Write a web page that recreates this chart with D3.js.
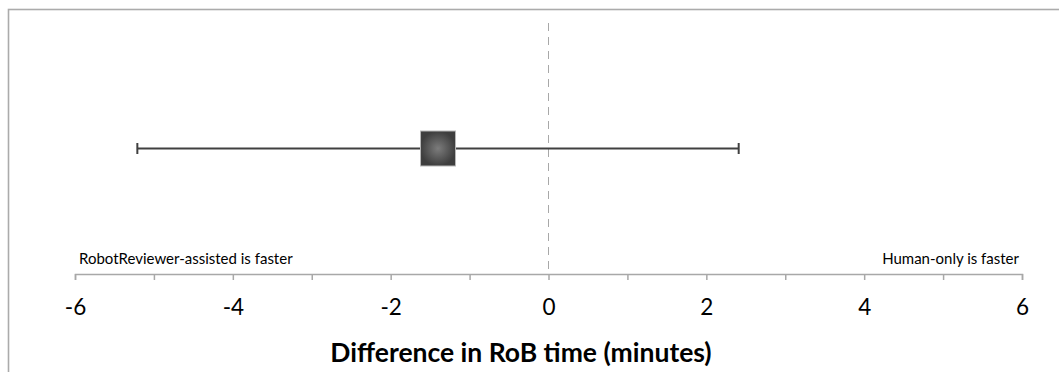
<!DOCTYPE html>
<html>
<head>
<meta charset="utf-8">
<script src="https://cdn.jsdelivr.net/npm/d3@7"></script>
<style>
  body { margin: 0; background: #fff; }
  svg { display: block; }
</style>
</head>
<body>
<div class="canvas"></div>
<script>
// data
const estimates = [-1.40];          // mean difference (minutes)
const lowerCI = [-5.21];
const upperCI = [2.41];
const tickValues = [-6, -5, -4, -3, -2, -1, 0, 1, 2, 3, 4, 5, 6];
const tickLabels = [-6, -4, -2, 0, 2, 4, 6];
const leftNote = 'RobotReviewer-assisted is faster';
const rightNote = 'Human-only is faster';
const axisTitle = 'Difference in RoB time (minutes)';

const width = 1059;
const height = 372;
const font = 'Lato, "Liberation Sans", sans-serif';

const svg = d3.select('.canvas')
    .append('svg')
    .attr('width', width)
    .attr('height', height);

// gradient for the square marker
const defs = svg.append('defs');
const grad = defs.append('radialGradient').attr('id', 'sq');
grad.append('stop').attr('offset', '0%').attr('stop-color', '#7c7c7c');
grad.append('stop').attr('offset', '100%').attr('stop-color', '#3e3e3e');

// chart frame (right and bottom run off the page)
svg.append('rect')
    .attr('x', 8.5)
    .attr('y', 9.5)
    .attr('width', 1054)
    .attr('height', 400)
    .attr('fill', 'none')
    .attr('stroke', '#ababab')
    .attr('stroke-width', 1.6);

// scales
const x = d3.scaleLinear()
    .domain([-6, 6])
    .range([75, 1022]);

const y = d3.scaleLinear()
    .domain([0, 2])
    .range([274, 23]);

// zero reference line
svg.append('line')
    .attr('x1', x(0)).attr('x2', x(0))
    .attr('y1', y(2)).attr('y2', y(0))
    .attr('stroke', '#a8a8a8')
    .attr('stroke-width', 1)
    .attr('stroke-dasharray', '8,6');

// axis
const xAxis = d3.axisBottom(x)
    .tickValues(tickValues)
    .tickSize(6)
    .tickSizeOuter(6)
    .tickFormat(d => tickLabels.includes(d) ? String(d) : '');

const xAxisGroup = svg.append('g')
    .attr('transform', `translate(0, ${y(0)})`)
    .call(xAxis);

xAxisGroup.select('.domain')
    .attr('stroke', '#a8a8a8')
    .attr('stroke-width', 1.5);
xAxisGroup.selectAll('.tick line')
    .attr('stroke', '#a8a8a8')
    .attr('stroke-width', 1.5);
xAxisGroup.selectAll('.tick text')
    .attr('y', 25)
    .attr('dy', '0.71em')
    .attr('fill', '#000')
    .style('font-family', font)
    .style('font-size', '22.5px');

// axis title
svg.append('text')
    .attr('x', 521)
    .attr('y', 362)
    .attr('text-anchor', 'middle')
    .style('font-family', font)
    .style('font-size', '26.5px')
    .style('font-weight', 'bold')
    .text(axisTitle);

// direction notes
svg.append('text')
    .attr('x', 79)
    .attr('y', 264)
    .style('font-family', font)
    .style('font-size', '15px')
    .text(leftNote);

svg.append('text')
    .attr('x', 1019)
    .attr('y', 264)
    .attr('text-anchor', 'end')
    .style('font-family', font)
    .style('font-size', '15px')
    .text(rightNote);

// confidence interval
const rows = estimates.map((e, i) => ({ est: e, lo: lowerCI[i], hi: upperCI[i], row: 1 }));
const ci = svg.append('g')
    .attr('stroke', '#404040')
    .attr('stroke-width', 2);

ci.selectAll('.whisker').data(rows).enter().append('line')
    .attr('x1', d => x(d.lo)).attr('x2', d => x(d.hi))
    .attr('y1', d => y(d.row)).attr('y2', d => y(d.row));

ci.selectAll('.capL').data(rows).enter().append('line')
    .attr('x1', d => x(d.lo)).attr('x2', d => x(d.lo))
    .attr('y1', d => y(d.row) - 5.5).attr('y2', d => y(d.row) + 5.5);

ci.selectAll('.capR').data(rows).enter().append('line')
    .attr('x1', d => x(d.hi)).attr('x2', d => x(d.hi))
    .attr('y1', d => y(d.row) - 5.5).attr('y2', d => y(d.row) + 5.5);

// point estimate
const sq = 35;
svg.selectAll('.est').data(rows).enter().append('rect')
    .attr('x', d => x(d.est) - sq / 2)
    .attr('y', d => y(d.row) - sq / 2)
    .attr('width', sq)
    .attr('height', sq)
    .attr('fill', 'url(#sq)')
    .attr('stroke', '#b8b8b8')
    .attr('stroke-width', 1);
</script>
</body>
</html>
